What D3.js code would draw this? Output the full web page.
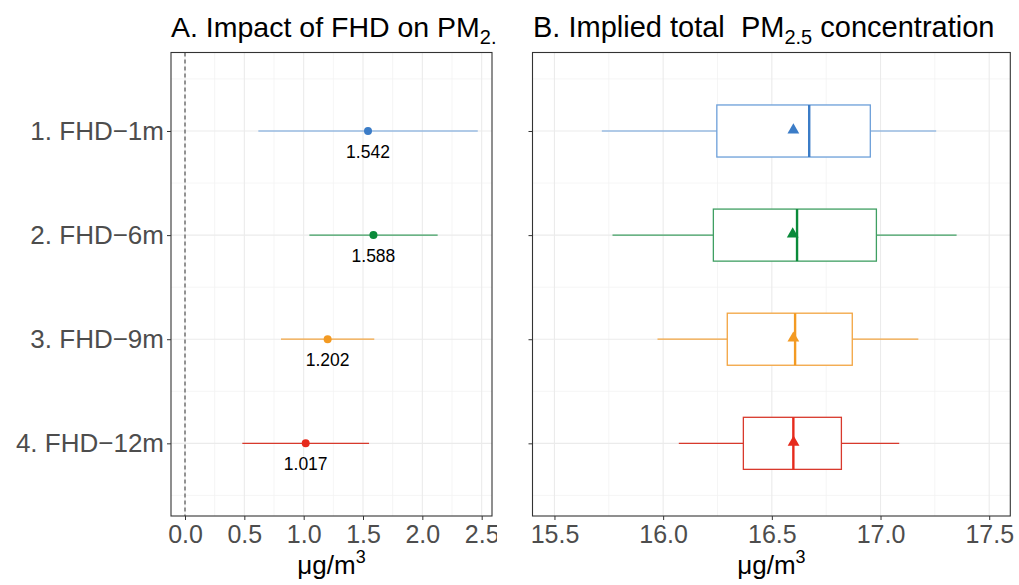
<!DOCTYPE html>
<html>
<head>
<meta charset="utf-8">
<script src="https://cdn.jsdelivr.net/npm/d3@7"></script>
<style>
  html, body { margin: 0; padding: 0; background: #ffffff; }
  svg { display: block; font-family: "Liberation Sans", Arial, sans-serif; }
</style>
</head>
<body>
<svg id="chart" width="1019" height="585"></svg>
<script>
// Forecast-horizon categories (y axis, top to bottom)
const categories = ["1. FHD\u22121m", "2. FHD\u22126m", "3. FHD\u22129m", "4. FHD\u221212m"];

// Panel A: estimated impact with confidence interval
const effect = [1.542, 1.588, 1.202, 1.017];
const ciLow  = [0.618, 1.048, 0.809, 0.483];
const ciHigh = [2.467, 2.129, 1.595, 1.551];

// Panel B: distribution of implied total PM2.5
const whiskLow  = [15.718, 15.767, 15.974, 16.072];
const q1        = [16.247, 16.231, 16.295, 16.369];
const median    = [16.672, 16.616, 16.607, 16.599];
const q3        = [16.953, 16.981, 16.870, 16.820];
const whiskHigh = [17.256, 17.350, 17.174, 17.086];
const meanVal   = [16.599, 16.596, 16.599, 16.600];

// Tick labels
const ticksA = [0.0, 0.5, 1.0, 1.5, 2.0, 2.5];
const ticksB = [15.5, 16.0, 16.5, 17.0, 17.5];

// Series colours: marker/median colour and lighter line colour
const markColor = ["#3b7cc7", "#0a8a3a", "#f39a22", "#e62a1c"];
const lineColor = ["#6c9fd9", "#3f9f62", "#f2a440", "#d8392c"];

const svg = d3.select("#chart");

const panelTop = 52.5, panelBottom = 516;
const y = d3.scaleLinear().domain([0.246, 4.698]).range([panelTop, panelBottom]);
const rows = categories.map((c, i) => i + 1);

const xA = d3.scaleLinear().domain([-0.118, 2.587]).range([171, 492]);
const xB = d3.scaleLinear().domain([15.399, 17.597]).range([532.5, 1010.3]);

const gridMajor = "#ebebeb", gridMinor = "#f3f3f3";
const axisText = "#4d4d4d";

// panel A's viewport: its title and tick labels are cut at this edge
svg.append("defs").append("clipPath").attr("id", "clipA")
  .append("rect").attr("x", 0).attr("y", 0).attr("width", 497).attr("height", 585);

function drawPanel(x, ticks, step) {
  const [x0, x1] = x.range();
  const g = svg.append("g");
  // minor vertical grid
  const minorX = [];
  for (let v = ticks[0] - step / 2; v <= x.domain()[1]; v += step) {
    if (v >= x.domain()[0]) minorX.push(v);
  }
  g.selectAll(".vminor").data(minorX).enter().append("line")
    .attr("x1", d => x(d)).attr("x2", d => x(d))
    .attr("y1", panelTop).attr("y2", panelBottom)
    .attr("stroke", gridMinor).attr("stroke-width", 0.8);
  // minor horizontal grid
  const minorY = [0.5, 1.5, 2.5, 3.5, 4.5];
  g.selectAll(".hminor").data(minorY).enter().append("line")
    .attr("x1", x0).attr("x2", x1)
    .attr("y1", d => y(d)).attr("y2", d => y(d))
    .attr("stroke", gridMinor).attr("stroke-width", 0.8);
  // major grid
  g.selectAll(".vmajor").data(ticks).enter().append("line")
    .attr("x1", d => x(d)).attr("x2", d => x(d))
    .attr("y1", panelTop).attr("y2", panelBottom)
    .attr("stroke", gridMajor).attr("stroke-width", 1.1);
  g.selectAll(".hmajor").data(rows).enter().append("line")
    .attr("x1", x0).attr("x2", x1)
    .attr("y1", d => y(d)).attr("y2", d => y(d))
    .attr("stroke", gridMajor).attr("stroke-width", 1.1);
  return g;
}

function drawFrameAndAxes(x, ticks, fmt, showLabels, clip) {
  const [x0, x1] = x.range();
  // x axis
  const ax = svg.append("g")
    .attr("clip-path", clip || null)
    .append("g")
    .attr("transform", `translate(0,${panelBottom})`)
    .call(d3.axisBottom(x).tickValues(ticks).tickFormat(fmt).tickSize(4).tickPadding(5));
  ax.select(".domain").remove();
  ax.selectAll(".tick line").attr("stroke", "#333333").attr("stroke-width", 1);
  ax.selectAll(".tick text")
    .attr("fill", axisText).attr("font-size", 25)
    .attr("font-family", "Liberation Sans, Arial, sans-serif");
  // y axis
  const ay = svg.append("g")
    .attr("transform", `translate(${x0},0)`)
    .call(d3.axisLeft(y).tickValues(rows)
      .tickFormat((d, i) => showLabels ? categories[i] : "")
      .tickSize(4).tickPadding(3));
  ay.select(".domain").remove();
  ay.selectAll(".tick line").attr("stroke", "#333333").attr("stroke-width", 1);
  ay.selectAll(".tick text")
    .attr("fill", axisText).attr("font-size", 26)
    .attr("font-family", "Liberation Sans, Arial, sans-serif");
  // frame
  svg.append("rect")
    .attr("x", x0).attr("y", panelTop)
    .attr("width", x1 - x0).attr("height", panelBottom - panelTop)
    .attr("fill", "none").attr("stroke", "#333333").attr("stroke-width", 1.1);
  // axis title
  const t = svg.append("text")
    .attr("x", (x0 + x1) / 2).attr("y", 574)
    .attr("text-anchor", "middle").attr("font-size", 26).attr("fill", "#000");
  t.append("tspan").text("\u03bcg/m");
  t.append("tspan").attr("font-size", 18).attr("dy", -11).text("3");
}

// ---------- Panel A ----------
drawPanel(xA, ticksA, 0.5);
const gA = svg.append("g");
gA.append("line")
  .attr("x1", xA(0)).attr("x2", xA(0))
  .attr("y1", panelTop).attr("y2", panelBottom)
  .attr("stroke", "#444444").attr("stroke-width", 1.1)
  .attr("stroke-dasharray", "4,3");
gA.selectAll(".ci").data(rows).enter().append("line")
  .attr("x1", (d, i) => xA(ciLow[i])).attr("x2", (d, i) => xA(ciHigh[i]))
  .attr("y1", d => y(d)).attr("y2", d => y(d))
  .attr("stroke", (d, i) => lineColor[i]).attr("stroke-width", 1.2);
gA.selectAll(".pt").data(rows).enter().append("circle")
  .attr("cx", (d, i) => xA(effect[i])).attr("cy", d => y(d)).attr("r", 4)
  .attr("fill", (d, i) => markColor[i]);
gA.selectAll(".lbl").data(rows).enter().append("text")
  .attr("x", (d, i) => xA(effect[i])).attr("y", d => y(d) + 27)
  .attr("text-anchor", "middle").attr("font-size", 17.5).attr("fill", "#000")
  .text((d, i) => effect[i].toFixed(3));
drawFrameAndAxes(xA, ticksA, d3.format(".1f"), true, "url(#clipA)");

// ---------- Panel B ----------
drawPanel(xB, ticksB, 0.5);
const gB = svg.append("g");
const halfBox = 0.25;
gB.selectAll(".wl").data(rows).enter().append("line")
  .attr("x1", (d, i) => xB(whiskLow[i])).attr("x2", (d, i) => xB(q1[i]))
  .attr("y1", d => y(d)).attr("y2", d => y(d))
  .attr("stroke", (d, i) => lineColor[i]).attr("stroke-width", 1.2);
gB.selectAll(".wh").data(rows).enter().append("line")
  .attr("x1", (d, i) => xB(q3[i])).attr("x2", (d, i) => xB(whiskHigh[i]))
  .attr("y1", d => y(d)).attr("y2", d => y(d))
  .attr("stroke", (d, i) => lineColor[i]).attr("stroke-width", 1.2);
gB.selectAll(".box").data(rows).enter().append("rect")
  .attr("x", (d, i) => xB(q1[i])).attr("width", (d, i) => xB(q3[i]) - xB(q1[i]))
  .attr("y", d => y(d - halfBox)).attr("height", d => y(d + halfBox) - y(d - halfBox))
  .attr("fill", "#ffffff").attr("stroke", (d, i) => lineColor[i]).attr("stroke-width", 1.3);
gB.selectAll(".med").data(rows).enter().append("line")
  .attr("x1", (d, i) => xB(median[i])).attr("x2", (d, i) => xB(median[i]))
  .attr("y1", d => y(d - halfBox)).attr("y2", d => y(d + halfBox))
  .attr("stroke", (d, i) => markColor[i]).attr("stroke-width", 2.4);
gB.selectAll(".mean").data(rows).enter().append("path")
  .attr("transform", (d, i) => `translate(${xB(meanVal[i])},${y(d) - 1})`)
  .attr("d", d3.symbol().type(d3.symbolTriangle).size(60))
  .attr("fill", (d, i) => markColor[i]);
drawFrameAndAxes(xB, ticksB, d3.format(".1f"), false, null);

// ---------- Titles ----------
const tA = svg.append("text")
  .attr("x", 171).attr("y", 37).attr("font-size", 28.5).attr("fill", "#000")
  .attr("clip-path", "url(#clipA)");
tA.append("tspan").text("A. Impact of FHD on PM");
tA.append("tspan").attr("font-size", 20).attr("dy", 7).text("2.5");

const tB = svg.append("text")
  .attr("x", 533).attr("y", 37).attr("font-size", 29).attr("fill", "#000")
  .attr("xml:space", "preserve");
tB.append("tspan").text("B. Implied total  PM");
tB.append("tspan").attr("font-size", 20).attr("dy", 7).text("2.5");
tB.append("tspan").attr("dy", -7).text(" concentration");
</script>
</body>
</html>
